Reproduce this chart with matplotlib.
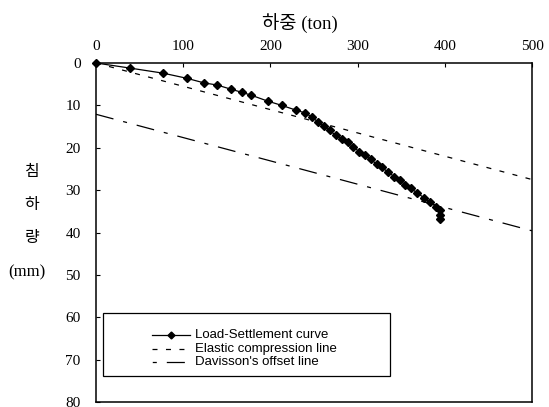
import numpy as np
import matplotlib.pyplot as plt
from matplotlib.patches import Rectangle

plt.rcParams["lines.scale_dashes"] = False

load = [0, 39, 77, 104, 124, 139, 155, 167, 178, 197, 213, 229, 240, 248,
        255, 261, 268, 275, 282, 289, 295, 302, 308, 315, 322, 328, 335, 342,
        349, 354, 361, 368, 376, 383, 390, 394, 394, 394]
settlement = [0, 1.2, 2.4, 3.6, 4.7, 5.2, 6.2, 6.9, 7.6, 9.0, 10.0, 11.1, 11.8,
              12.8, 14.0, 14.9, 15.9, 17.1, 18.0, 18.7, 19.9, 20.9, 21.8, 22.7,
              23.9, 24.6, 25.8, 26.8, 27.7, 28.7, 29.6, 30.6, 31.8, 32.9, 33.9,
              34.6, 35.8, 36.7]

line_load = [0, 500]
elastic = [0, 27.5]
davisson = [12.1, 39.6]

x_ticks = [0, 100, 200, 300, 400, 500]
y_ticks = [0, 10, 20, 30, 40, 50, 60, 70, 80]

labels = ["Load-Settlement curve", "Elastic compression line", "Davisson's offset line"]

W, H = 549, 407
serif = ["Liberation Serif", "Noto Sans CJK KR"]

fig = plt.figure(figsize=(W / 100, H / 100), dpi=100)
ax = fig.add_axes([96 / W, 1 - 402 / H, (532 - 96) / W, (402 - 63) / H])

elastic_ls = (0, (3.6, 6.1))
davis_ls = (0, (13, 7.2, 2.9, 7.2))

ax.plot(line_load, elastic, color="black", lw=0.9, ls=elastic_ls)
ax.plot(line_load, davisson, color="black", lw=0.9, ls=davis_ls)
ax.plot(load, settlement, color="black", lw=0.9, marker="D", ms=4,
        mfc="black", mec="black", clip_on=False, zorder=3)

ax.set_xlim(0, 500)
ax.set_ylim(80, 0)
ax.xaxis.tick_top()
ax.set_xticks(x_ticks)
ax.set_yticks(y_ticks)
ax.tick_params(axis="x", direction="in", length=3, pad=7, labelsize=11)
ax.tick_params(axis="y", direction="in", length=3, pad=11, labelsize=11)
for lab in ax.get_xticklabels() + ax.get_yticklabels():
    lab.set_family(serif)
for sp in ax.spines.values():
    sp.set_linewidth(1.1)

def px(x, y):
    return x / W, 1 - y / H

fig.text(*px(300, 24), "하중 (ton)", ha="center", va="center",
         fontsize=13.5, family=serif)
for txt, (x, y), fs in zip(["침", "하", "량", "(mm)"],
                           [(32, 172), (32, 205), (32, 238), (27, 272)],
                           [11.5, 11.5, 11.5, 12]):
    fig.text(*px(x, y), txt, ha="center", va="center", fontsize=fs, family=serif)

# legend box drawn by hand to match the wide excel-style frame
x0, y0 = px(103, 376)
x1, y1 = px(390, 313)
fig.add_artist(Rectangle((x0, y0), x1 - x0, y1 - y0, transform=fig.transFigure,
                         fc="white", ec="black", lw=0.9))
styles = [dict(ls="-", marker="D", markevery=[1]),
          dict(ls=elastic_ls),
          dict(ls=(20, (13, 7.2, 2.9, 7.2)))]
for lab, st, yy in zip(labels, styles, [335, 349, 362]):
    hx0, hy = px(152, yy)
    hx1, _ = px(190, yy)
    fig.add_artist(plt.Line2D([hx0, (hx0 + hx1) / 2, hx1], [hy, hy, hy],
                              transform=fig.transFigure, color="black", lw=0.9,
                              ms=3.5, **st))
    fig.text(*px(195, yy), lab, ha="left", va="center", fontsize=9.5,
             family="Liberation Sans")

fig.savefig("out.png", dpi=100)
